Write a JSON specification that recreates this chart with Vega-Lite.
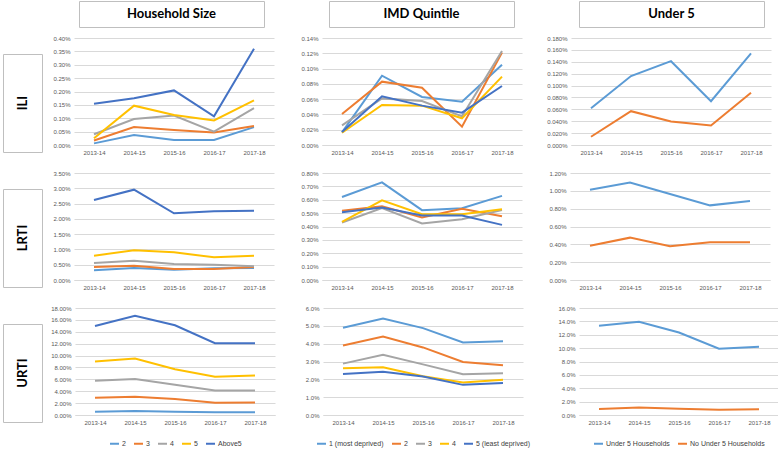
{
"$schema":"https://vega.github.io/schema/vega-lite/v6.json",
"padding":{"left":2,"top":0,"right":2,"bottom":2},
"background":"white",
"config":{
 "view":{"stroke":null},
 "font":"Liberation Sans",
 "axis":{"labelFontSize":6,"labelColor":"#595959","gridColor":"#d9d9d9","gridWidth":1,"ticks":false,"labelPadding":4},
 "axisX":{"grid":false,"domainColor":"#d9d9d9","labelAngle":0,"minExtent":12,"maxExtent":12},
 "axisY":{"domain":false,"grid":true,"minExtent":24,"maxExtent":24},
 "legend":{"layout":{"bottom":{"anchor":"middle"}},"labelFont":"Liberation Sans","labelFontSize":7,"labelColor":"#404040","symbolType":"stroke","symbolStrokeWidth":2,"symbolSize":81,"columnPadding":4,"labelOffset":2}
},
"datasets":{
 "hh_ili":[
  {"year":"2013-14","group":"2","value":0.00006},{"year":"2014-15","group":"2","value":0.00037},{"year":"2015-16","group":"2","value":0.00019},{"year":"2016-17","group":"2","value":0.00019},{"year":"2017-18","group":"2","value":0.00067},
  {"year":"2013-14","group":"3","value":0.00017},{"year":"2014-15","group":"3","value":0.00067},{"year":"2015-16","group":"3","value":0.00056},{"year":"2016-17","group":"3","value":0.00047},{"year":"2017-18","group":"3","value":0.00071},
  {"year":"2013-14","group":"4","value":0.0004},{"year":"2014-15","group":"4","value":0.00097},{"year":"2015-16","group":"4","value":0.0011},{"year":"2016-17","group":"4","value":0.0005},{"year":"2017-18","group":"4","value":0.00138},
  {"year":"2013-14","group":"5","value":0.00025},{"year":"2014-15","group":"5","value":0.00147},{"year":"2015-16","group":"5","value":0.00112},{"year":"2016-17","group":"5","value":0.00092},{"year":"2017-18","group":"5","value":0.00167},
  {"year":"2013-14","group":"Above5","value":0.001545},{"year":"2014-15","group":"Above5","value":0.001745},{"year":"2015-16","group":"Above5","value":0.00204},{"year":"2016-17","group":"Above5","value":0.00107},{"year":"2017-18","group":"Above5","value":0.0036}
 ],
 "imd_ili":[
  {"year":"2013-14","group":"1 (most deprived)","value":0.000166},{"year":"2014-15","group":"1 (most deprived)","value":0.000907},{"year":"2015-16","group":"1 (most deprived)","value":0.000628},{"year":"2016-17","group":"1 (most deprived)","value":0.000567},{"year":"2017-18","group":"1 (most deprived)","value":0.00105},
  {"year":"2013-14","group":"2","value":0.000406},{"year":"2014-15","group":"2","value":0.000829},{"year":"2015-16","group":"2","value":0.00075},{"year":"2016-17","group":"2","value":0.00024},{"year":"2017-18","group":"2","value":0.00121},
  {"year":"2013-14","group":"3","value":0.000257},{"year":"2014-15","group":"3","value":0.00061},{"year":"2015-16","group":"3","value":0.000576},{"year":"2016-17","group":"3","value":0.000375},{"year":"2017-18","group":"3","value":0.00123},
  {"year":"2013-14","group":"4","value":0.00016},{"year":"2014-15","group":"4","value":0.000523},{"year":"2015-16","group":"4","value":0.000515},{"year":"2016-17","group":"4","value":0.00035},{"year":"2017-18","group":"4","value":0.000894},
  {"year":"2013-14","group":"5 (least deprived)","value":0.00017},{"year":"2014-15","group":"5 (least deprived)","value":0.000637},{"year":"2015-16","group":"5 (least deprived)","value":0.000515},{"year":"2016-17","group":"5 (least deprived)","value":0.000423},{"year":"2017-18","group":"5 (least deprived)","value":0.000772}
 ],
 "u5_ili":[
  {"year":"2013-14","group":"Under 5 Households","value":0.000619},{"year":"2014-15","group":"Under 5 Households","value":0.00116},{"year":"2015-16","group":"Under 5 Households","value":0.00141},{"year":"2016-17","group":"Under 5 Households","value":0.000736},{"year":"2017-18","group":"Under 5 Households","value":0.00154},
  {"year":"2013-14","group":"No Under 5 Households","value":0.000139},{"year":"2014-15","group":"No Under 5 Households","value":0.000569},{"year":"2015-16","group":"No Under 5 Households","value":0.000396},{"year":"2016-17","group":"No Under 5 Households","value":0.000329},{"year":"2017-18","group":"No Under 5 Households","value":0.00088}
 ],
 "hh_lrti":[
  {"year":"2013-14","group":"2","value":0.00316},{"year":"2014-15","group":"2","value":0.00393},{"year":"2015-16","group":"2","value":0.00338},{"year":"2016-17","group":"2","value":0.00382},{"year":"2017-18","group":"2","value":0.00393},
  {"year":"2013-14","group":"3","value":0.00425},{"year":"2014-15","group":"3","value":0.00469},{"year":"2015-16","group":"3","value":0.0036},{"year":"2016-17","group":"3","value":0.0036},{"year":"2017-18","group":"3","value":0.00425},
  {"year":"2013-14","group":"4","value":0.00556},{"year":"2014-15","group":"4","value":0.00632},{"year":"2015-16","group":"4","value":0.00523},{"year":"2016-17","group":"4","value":0.005},{"year":"2017-18","group":"4","value":0.00447},
  {"year":"2013-14","group":"5","value":0.00796},{"year":"2014-15","group":"5","value":0.0097},{"year":"2015-16","group":"5","value":0.00905},{"year":"2016-17","group":"5","value":0.00742},{"year":"2017-18","group":"5","value":0.00796},
  {"year":"2013-14","group":"Above5","value":0.02617},{"year":"2014-15","group":"Above5","value":0.02955},{"year":"2015-16","group":"Above5","value":0.02181},{"year":"2016-17","group":"Above5","value":0.02246},{"year":"2017-18","group":"Above5","value":0.02268}
 ],
 "imd_lrti":[
  {"year":"2013-14","group":"1 (most deprived)","value":0.00621},{"year":"2014-15","group":"1 (most deprived)","value":0.0073},{"year":"2015-16","group":"1 (most deprived)","value":0.00522},{"year":"2016-17","group":"1 (most deprived)","value":0.00537},{"year":"2017-18","group":"1 (most deprived)","value":0.00629},
  {"year":"2013-14","group":"2","value":0.00517},{"year":"2014-15","group":"2","value":0.00552},{"year":"2015-16","group":"2","value":0.00467},{"year":"2016-17","group":"2","value":0.00532},{"year":"2017-18","group":"2","value":0.00477},
  {"year":"2013-14","group":"3","value":0.0043},{"year":"2014-15","group":"3","value":0.00537},{"year":"2015-16","group":"3","value":0.00422},{"year":"2016-17","group":"3","value":0.00455},{"year":"2017-18","group":"3","value":0.00524},
  {"year":"2013-14","group":"4","value":0.00435},{"year":"2014-15","group":"4","value":0.00596},{"year":"2015-16","group":"4","value":0.00492},{"year":"2016-17","group":"4","value":0.00492},{"year":"2017-18","group":"4","value":0.00529},
  {"year":"2013-14","group":"5 (least deprived)","value":0.00507},{"year":"2014-15","group":"5 (least deprived)","value":0.00542},{"year":"2015-16","group":"5 (least deprived)","value":0.00482},{"year":"2016-17","group":"5 (least deprived)","value":0.00482},{"year":"2017-18","group":"5 (least deprived)","value":0.00412}
 ],
 "u5_lrti":[
  {"year":"2013-14","group":"Under 5 Households","value":0.01013},{"year":"2014-15","group":"Under 5 Households","value":0.01092},{"year":"2015-16","group":"Under 5 Households","value":0.00964},{"year":"2016-17","group":"Under 5 Households","value":0.00837},{"year":"2017-18","group":"Under 5 Households","value":0.00886},
  {"year":"2013-14","group":"No Under 5 Households","value":0.00385},{"year":"2014-15","group":"No Under 5 Households","value":0.00475},{"year":"2015-16","group":"No Under 5 Households","value":0.00378},{"year":"2016-17","group":"No Under 5 Households","value":0.00422},{"year":"2017-18","group":"No Under 5 Households","value":0.00422}
 ],
 "hh_urti":[
  {"year":"2013-14","group":"2","value":0.0056},{"year":"2014-15","group":"2","value":0.0067},{"year":"2015-16","group":"2","value":0.0056},{"year":"2016-17","group":"2","value":0.0045},{"year":"2017-18","group":"2","value":0.0045},
  {"year":"2013-14","group":"3","value":0.0291},{"year":"2014-15","group":"3","value":0.0307},{"year":"2015-16","group":"3","value":0.0268},{"year":"2016-17","group":"3","value":0.0207},{"year":"2017-18","group":"3","value":0.0212},
  {"year":"2013-14","group":"4","value":0.0576},{"year":"2014-15","group":"4","value":0.0604},{"year":"2015-16","group":"4","value":0.0509},{"year":"2016-17","group":"4","value":0.0414},{"year":"2017-18","group":"4","value":0.0414},
  {"year":"2013-14","group":"5","value":0.09},{"year":"2014-15","group":"5","value":0.095},{"year":"2015-16","group":"5","value":0.0771},{"year":"2016-17","group":"5","value":0.0643},{"year":"2017-18","group":"5","value":0.0665},
  {"year":"2013-14","group":"Above5","value":0.1498},{"year":"2014-15","group":"Above5","value":0.1671},{"year":"2015-16","group":"Above5","value":0.1509},{"year":"2016-17","group":"Above5","value":0.1207},{"year":"2017-18","group":"Above5","value":0.1207}
 ],
 "imd_urti":[
  {"year":"2013-14","group":"1 (most deprived)","value":0.0489},{"year":"2014-15","group":"1 (most deprived)","value":0.0541},{"year":"2015-16","group":"1 (most deprived)","value":0.0487},{"year":"2016-17","group":"1 (most deprived)","value":0.0407},{"year":"2017-18","group":"1 (most deprived)","value":0.0414},
  {"year":"2013-14","group":"2","value":0.039},{"year":"2014-15","group":"2","value":0.044},{"year":"2015-16","group":"2","value":0.0379},{"year":"2016-17","group":"2","value":0.0297},{"year":"2017-18","group":"2","value":0.0279},
  {"year":"2013-14","group":"3","value":0.0288},{"year":"2014-15","group":"3","value":0.0338},{"year":"2015-16","group":"3","value":0.0284},{"year":"2016-17","group":"3","value":0.0229},{"year":"2017-18","group":"3","value":0.0234},
  {"year":"2013-14","group":"4","value":0.0262},{"year":"2014-15","group":"4","value":0.0268},{"year":"2015-16","group":"4","value":0.0217},{"year":"2016-17","group":"4","value":0.0182},{"year":"2017-18","group":"4","value":0.0197},
  {"year":"2013-14","group":"5 (least deprived)","value":0.023},{"year":"2014-15","group":"5 (least deprived)","value":0.0242},{"year":"2015-16","group":"5 (least deprived)","value":0.0216},{"year":"2016-17","group":"5 (least deprived)","value":0.0169},{"year":"2017-18","group":"5 (least deprived)","value":0.018}
 ],
 "u5_urti":[
  {"year":"2013-14","group":"Under 5 Households","value":0.1333},{"year":"2014-15","group":"Under 5 Households","value":0.1393},{"year":"2015-16","group":"Under 5 Households","value":0.1234},{"year":"2016-17","group":"Under 5 Households","value":0.099},{"year":"2017-18","group":"Under 5 Households","value":0.102},
  {"year":"2013-14","group":"No Under 5 Households","value":0.009},{"year":"2014-15","group":"No Under 5 Households","value":0.0114},{"year":"2015-16","group":"No Under 5 Households","value":0.0095},{"year":"2016-17","group":"No Under 5 Households","value":0.008},{"year":"2017-18","group":"No Under 5 Households","value":0.0085}
 ]
},
"spacing":4,
"resolve":{"scale":{"color":"independent"}},
"vconcat":[
 {"spacing":7,"hconcat":[
   {"width":68,"height":26,"data":{"values":[{"t":""}]},"mark":{"type":"text"},"encoding":{"text":{"field":"t","type":"nominal"}}},
   {"spacing":63,"hconcat":[
     {"width":185,"height":26,"view":{"stroke":"#bfbfbf"},"data":{"values":[{"t":"Household Size"}]},"mark":{"type":"text","font":"Lato","fontWeight":"bold","fontSize":13},"encoding":{"text":{"field":"t","type":"nominal"}}},
     {"width":185,"height":26,"view":{"stroke":"#bfbfbf"},"data":{"values":[{"t":"IMD Quintile"}]},"mark":{"type":"text","font":"Lato","fontWeight":"bold","fontSize":13},"encoding":{"text":{"field":"t","type":"nominal"}}},
     {"width":185,"height":26,"view":{"stroke":"#bfbfbf"},"data":{"values":[{"t":"Under 5"}]},"mark":{"type":"text","font":"Lato","fontWeight":"bold","fontSize":13},"encoding":{"text":{"field":"t","type":"nominal"}}}
   ]}
 ]},
 {"spacing":10,"resolve":{"scale":{"color":"independent"}},"vconcat":[
  {"spacing":7,"resolve":{"scale":{"color":"independent"}},"hconcat":[
    {"spacing":9,"vconcat":[
      {"width":39,"height":1,"data":{"values":[{"t":""}]},"mark":{"type":"text"},"encoding":{"text":{"field":"t","type":"nominal"}}},
      {"width":39,"height":98,"view":{"stroke":"#bfbfbf"},"data":{"values":[{"t":"ILI"}]},"mark":{"type":"text","angle":270,"font":"Lato","fontWeight":"bold","fontSize":13},"encoding":{"text":{"field":"t","type":"nominal"}}}
    ]},
    {"spacing":24,"resolve":{"scale":{"color":"independent"}},"hconcat":[
      {"width":200,"height":107,"data":{"name":"hh_ili"},"mark":{"type":"line","strokeWidth":2},
       "encoding":{"x":{"field":"year","type":"ordinal","scale":{"type":"point","padding":0.5},"axis":{"title":null}},
        "y":{"field":"value","type":"quantitative","scale":{"domain":[0,0.004],"nice":false},"axis":{"title":null,"format":".2%","values":[0,0.0005,0.001,0.0015,0.002,0.0025,0.003,0.0035,0.004]}},
        "color":{"field":"group","type":"nominal","scale":{"domain":["2","3","4","5","Above5"],"range":["#5B9BD5","#ED7D31","#A5A5A5","#FFC000","#4472C4"]},"legend":null}}},
      {"width":200,"height":107,"data":{"name":"imd_ili"},"mark":{"type":"line","strokeWidth":2},
       "encoding":{"x":{"field":"year","type":"ordinal","scale":{"type":"point","padding":0.5},"axis":{"title":null}},
        "y":{"field":"value","type":"quantitative","scale":{"domain":[0,0.0014],"nice":false},"axis":{"title":null,"format":".2%","values":[0,0.0002,0.0004,0.0006,0.0008,0.001,0.0012,0.0014]}},
        "color":{"field":"group","type":"nominal","scale":{"domain":["1 (most deprived)","2","3","4","5 (least deprived)"],"range":["#5B9BD5","#ED7D31","#A5A5A5","#FFC000","#4472C4"]},"legend":null}}},
      {"width":200,"height":107,"data":{"name":"u5_ili"},"mark":{"type":"line","strokeWidth":2},
       "encoding":{"x":{"field":"year","type":"ordinal","scale":{"type":"point","padding":0.5},"axis":{"title":null}},
        "y":{"field":"value","type":"quantitative","scale":{"domain":[0,0.0018],"nice":false},"axis":{"title":null,"format":".3%","values":[0,0.0002,0.0004,0.0006,0.0008,0.001,0.0012,0.0014,0.0016,0.0018]}},
        "color":{"field":"group","type":"nominal","scale":{"domain":["Under 5 Households","No Under 5 Households"],"range":["#5B9BD5","#ED7D31"]},"legend":null}}}
    ]}
  ]},
  {"spacing":7,"resolve":{"scale":{"color":"independent"}},"hconcat":[
    {"spacing":9,"vconcat":[
      {"width":39,"height":1,"data":{"values":[{"t":""}]},"mark":{"type":"text"},"encoding":{"text":{"field":"t","type":"nominal"}}},
      {"width":39,"height":98,"view":{"stroke":"#bfbfbf"},"data":{"values":[{"t":"LRTI"}]},"mark":{"type":"text","angle":270,"font":"Lato","fontWeight":"bold","fontSize":13},"encoding":{"text":{"field":"t","type":"nominal"}}}
    ]},
    {"spacing":24,"resolve":{"scale":{"color":"independent"}},"hconcat":[
      {"width":200,"height":107,"data":{"name":"hh_lrti"},"mark":{"type":"line","strokeWidth":2},
       "encoding":{"x":{"field":"year","type":"ordinal","scale":{"type":"point","padding":0.5},"axis":{"title":null}},
        "y":{"field":"value","type":"quantitative","scale":{"domain":[0,0.035],"nice":false},"axis":{"title":null,"format":".2%","values":[0,0.005,0.01,0.015,0.02,0.025,0.03,0.035]}},
        "color":{"field":"group","type":"nominal","scale":{"domain":["2","3","4","5","Above5"],"range":["#5B9BD5","#ED7D31","#A5A5A5","#FFC000","#4472C4"]},"legend":null}}},
      {"width":200,"height":107,"data":{"name":"imd_lrti"},"mark":{"type":"line","strokeWidth":2},
       "encoding":{"x":{"field":"year","type":"ordinal","scale":{"type":"point","padding":0.5},"axis":{"title":null}},
        "y":{"field":"value","type":"quantitative","scale":{"domain":[0,0.008],"nice":false},"axis":{"title":null,"format":".2%","values":[0,0.001,0.002,0.003,0.004,0.005,0.006,0.007,0.008]}},
        "color":{"field":"group","type":"nominal","scale":{"domain":["1 (most deprived)","2","3","4","5 (least deprived)"],"range":["#5B9BD5","#ED7D31","#A5A5A5","#FFC000","#4472C4"]},"legend":null}}},
      {"width":200,"height":107,"data":{"name":"u5_lrti"},"mark":{"type":"line","strokeWidth":2},
       "encoding":{"x":{"field":"year","type":"ordinal","scale":{"type":"point","padding":0.5},"axis":{"title":null}},
        "y":{"field":"value","type":"quantitative","scale":{"domain":[0,0.012],"nice":false},"axis":{"title":null,"format":".2%","values":[0,0.002,0.004,0.006,0.008,0.01,0.012]}},
        "color":{"field":"group","type":"nominal","scale":{"domain":["Under 5 Households","No Under 5 Households"],"range":["#5B9BD5","#ED7D31"]},"legend":null}}}
    ]}
  ]},
  {"spacing":7,"resolve":{"scale":{"color":"independent"}},"hconcat":[
    {"spacing":9,"vconcat":[
      {"width":39,"height":1,"data":{"values":[{"t":""}]},"mark":{"type":"text"},"encoding":{"text":{"field":"t","type":"nominal"}}},
      {"width":39,"height":98,"view":{"stroke":"#bfbfbf"},"data":{"values":[{"t":"URTI"}]},"mark":{"type":"text","angle":270,"font":"Lato","fontWeight":"bold","fontSize":13},"encoding":{"text":{"field":"t","type":"nominal"}}}
    ]},
    {"spacing":24,"resolve":{"scale":{"color":"independent"}},"hconcat":[
      {"width":200,"height":107,"data":{"name":"hh_urti"},"mark":{"type":"line","strokeWidth":2},
       "encoding":{"x":{"field":"year","type":"ordinal","scale":{"type":"point","padding":0.5},"axis":{"title":null}},
        "y":{"field":"value","type":"quantitative","scale":{"domain":[0,0.18],"nice":false},"axis":{"title":null,"format":".2%","values":[0,0.02,0.04,0.06,0.08,0.1,0.12,0.14,0.16,0.18]}},
        "color":{"field":"group","type":"nominal","scale":{"domain":["2","3","4","5","Above5"],"range":["#5B9BD5","#ED7D31","#A5A5A5","#FFC000","#4472C4"]},"legend":{"orient":"bottom","direction":"horizontal","title":null,"offset":11}}}},
      {"width":200,"height":107,"data":{"name":"imd_urti"},"mark":{"type":"line","strokeWidth":2},
       "encoding":{"x":{"field":"year","type":"ordinal","scale":{"type":"point","padding":0.5},"axis":{"title":null}},
        "y":{"field":"value","type":"quantitative","scale":{"domain":[0,0.06],"nice":false},"axis":{"title":null,"format":".1%","values":[0,0.01,0.02,0.03,0.04,0.05,0.06]}},
        "color":{"field":"group","type":"nominal","scale":{"domain":["1 (most deprived)","2","3","4","5 (least deprived)"],"range":["#5B9BD5","#ED7D31","#A5A5A5","#FFC000","#4472C4"]},"legend":{"orient":"bottom","direction":"horizontal","title":null,"offset":11}}}},
      {"width":200,"height":107,"data":{"name":"u5_urti"},"mark":{"type":"line","strokeWidth":2},
       "encoding":{"x":{"field":"year","type":"ordinal","scale":{"type":"point","padding":0.5},"axis":{"title":null}},
        "y":{"field":"value","type":"quantitative","scale":{"domain":[0,0.16],"nice":false},"axis":{"title":null,"format":".1%","values":[0,0.02,0.04,0.06,0.08,0.1,0.12,0.14,0.16]}},
        "color":{"field":"group","type":"nominal","scale":{"domain":["Under 5 Households","No Under 5 Households"],"range":["#5B9BD5","#ED7D31"]},"legend":{"orient":"bottom","direction":"horizontal","title":null,"offset":11}}}}
    ]}
  ]}
 ]}
]
}
